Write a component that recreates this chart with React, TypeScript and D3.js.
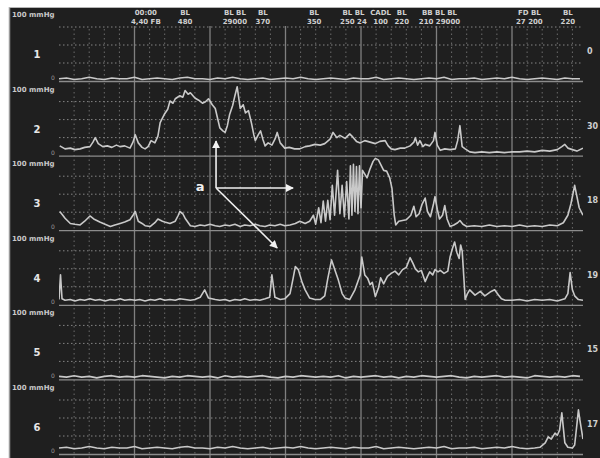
import React from "react";
import * as d3 from "d3";

// ---- data ----
const CHANNELS = ["1", "2", "3", "4", "5", "6"];
const RIGHT_LABELS = ["0", "30", "18", "19", "15", "17"];
const SAMPLE_STEP = 1; // seconds between samples of the flat traces

const CH1_VALUES = [3, 4, 2, 3, 5, 3, 2, 4, 3, 3, 5, 2, 3, 4, 3, 2, 4, 5, 3, 3, 2, 4, 3, 5, 3, 2, 3, 4, 2, 3, 4, 3, 5, 3, 2, 3, 4, 3, 2, 4, 3, 3, 5, 2, 3, 4, 3, 2, 3, 4, 3, 5, 2, 3, 3, 4, 2, 3, 4, 3, 5, 3, 2, 3, 4, 3, 2, 4, 3, 3];
const CH5_VALUES = [4, 3, 5, 3, 4, 2, 4, 5, 3, 4, 3, 5, 4, 3, 2, 4, 3, 5, 4, 3, 4, 2, 5, 3, 4, 3, 4, 5, 3, 2, 4, 3, 5, 4, 3, 4, 3, 5, 2, 4, 3, 4, 5, 3, 4, 2, 4, 3, 5, 4, 3, 4, 5, 3, 2, 4, 3, 4, 5, 3, 4, 3, 2, 5, 4, 3, 4, 3, 5, 4];
const CH6_FLAT = [8, 9, 7, 8, 10, 8, 7, 9, 8, 8, 10, 7, 8, 9, 8, 7, 9, 10, 8, 8, 7, 9, 8, 10, 8, 7, 8, 9, 7, 8, 9, 8, 10, 8, 7, 8, 9, 8, 7, 9, 8, 8, 10, 7, 8, 9, 8, 7, 8, 9, 8, 10, 7, 8, 8, 9, 7, 8, 9, 8, 10, 8, 7, 8];
const CH6_TAIL: [number, number][] = [[63.7, 9], [64.4, 15], [64.8, 23], [65.2, 20], [65.7, 28], [66.0, 25], [66.3, 32], [66.6, 55], [66.8, 35], [67.0, 15], [67.4, 9], [68.0, 8], [68.3, 12], [68.6, 40], [68.8, 59], [69.0, 45], [69.4, 20]];

const CH2: [number, number][] = [[0.1, 13], [0.8, 9], [1.5, 10], [2.1, 8], [2.8, 9], [3.4, 11], [4.1, 12], [4.5, 18], [4.8, 24], [5.2, 16], [5.8, 12], [6.4, 13], [7.0, 11], [7.6, 14], [8.1, 12], [8.7, 13], [9.4, 10], [9.8, 18], [10.1, 28], [10.5, 17], [11.0, 11], [11.4, 9], [11.8, 12], [12.2, 20], [12.7, 17], [13.1, 26], [13.4, 44], [14.0, 56], [14.4, 62], [14.7, 73], [15.1, 70], [15.4, 76], [16.0, 80], [16.4, 78], [16.7, 87], [17.1, 82], [17.4, 84], [18.0, 77], [18.5, 74], [19.0, 70], [19.4, 72], [19.8, 76], [20.3, 68], [20.7, 63], [21.0, 50], [21.3, 37], [21.7, 33], [22.0, 31], [22.3, 40], [22.6, 55], [23.0, 67], [23.3, 80], [23.6, 92], [24.0, 63], [24.4, 68], [24.7, 57], [25.1, 60], [25.5, 43], [25.8, 28], [26.0, 20], [26.4, 28], [26.7, 33], [27.0, 22], [27.3, 13], [27.7, 17], [28.2, 14], [28.6, 22], [28.9, 31], [29.3, 17], [29.9, 10], [30.5, 11], [31.2, 9], [31.9, 9], [32.6, 12], [33.2, 13], [33.9, 15], [34.6, 14], [35.2, 16], [35.9, 22], [36.3, 31], [36.8, 24], [37.2, 27], [37.9, 23], [38.5, 29], [38.9, 25], [39.4, 19], [39.9, 17], [40.5, 20], [41.2, 18], [41.9, 16], [42.5, 19], [43.2, 20], [43.6, 13], [44.0, 9], [44.5, 8], [45.2, 10], [45.8, 10], [46.5, 13], [47.0, 18], [47.2, 24], [47.5, 14], [47.8, 20], [48.2, 12], [48.5, 15], [49.1, 13], [49.6, 20], [49.8, 31], [50.1, 14], [50.5, 7], [51.1, 9], [51.8, 8], [52.5, 9], [52.8, 20], [53.1, 40], [53.4, 12], [53.8, 9], [54.4, 5], [55.1, 4], [56.0, 5], [57.0, 4], [58.0, 5], [59.0, 4], [60.0, 5], [61.0, 5], [62.0, 6], [63.0, 5], [64.0, 7], [65.0, 6], [66.0, 8], [66.6, 12], [67.0, 15], [67.4, 10], [68.0, 8], [68.6, 6], [69.4, 10]];

const CH3: [number, number][] = [[0.1, 25], [0.5, 20], [0.8, 16], [1.5, 9], [2.1, 8], [2.8, 7], [3.4, 12], [4.1, 19], [4.6, 15], [5.4, 11], [6.1, 8], [6.8, 5], [7.4, 7], [8.1, 9], [8.7, 11], [9.4, 14], [9.8, 20], [10.1, 25], [10.5, 12], [11.0, 9], [11.4, 6], [12.1, 5], [12.7, 10], [13.1, 15], [13.7, 12], [14.0, 11], [14.7, 9], [15.4, 12], [15.8, 20], [16.0, 25], [16.4, 22], [16.7, 16], [17.4, 6], [18.0, 5], [18.7, 7], [19.3, 6], [20.0, 8], [20.7, 6], [21.3, 5], [22.0, 7], [22.6, 6], [23.3, 8], [24.0, 5], [24.6, 7], [25.3, 6], [26.0, 8], [26.6, 6], [27.3, 5], [27.9, 7], [28.6, 6], [29.3, 8], [29.9, 6], [30.6, 7], [31.3, 9], [31.9, 12], [32.6, 9], [33.2, 12], [33.7, 20], [34.0, 8], [34.4, 30], [34.7, 10], [35.0, 39], [35.3, 12], [35.6, 40], [35.9, 14], [36.2, 60], [36.5, 20], [36.9, 80], [37.2, 22], [37.5, 60], [37.8, 18], [38.1, 65], [38.4, 15], [38.6, 86], [38.8, 20], [39.0, 88], [39.2, 25], [39.4, 85], [39.6, 22], [39.8, 86], [40.0, 30], [40.2, 80], [40.5, 75], [40.8, 70], [41.2, 82], [41.6, 92], [41.9, 96], [42.3, 94], [42.6, 88], [43.0, 80], [43.4, 79], [43.8, 70], [44.1, 56], [44.4, 20], [44.6, 7], [45.0, 12], [45.5, 13], [46.0, 14], [46.6, 20], [47.0, 32], [47.3, 18], [47.7, 22], [48.1, 35], [48.5, 43], [48.8, 25], [49.2, 18], [49.6, 35], [49.8, 45], [50.1, 28], [50.4, 15], [50.8, 20], [51.1, 33], [51.4, 15], [51.8, 5], [52.3, 7], [52.8, 10], [53.1, 13], [53.5, 8], [54.0, 5], [55.0, 6], [56.0, 5], [57.0, 7], [58.0, 5], [59.0, 6], [60.0, 5], [61.0, 7], [62.0, 5], [63.0, 6], [64.0, 5], [65.0, 7], [66.0, 6], [66.8, 10], [67.4, 20], [67.8, 35], [68.1, 50], [68.3, 60], [68.6, 45], [68.9, 30], [69.4, 20]];

const CH4: [number, number][] = [[0.0, 7], [0.2, 40], [0.4, 8], [0.8, 6], [1.5, 7], [2.1, 5], [2.8, 7], [3.4, 6], [4.1, 8], [4.8, 6], [5.4, 7], [6.1, 5], [6.8, 7], [7.4, 6], [8.1, 8], [8.7, 6], [9.4, 7], [10.1, 6], [10.7, 7], [11.4, 5], [12.1, 7], [12.7, 6], [13.4, 8], [14.0, 6], [14.7, 7], [15.4, 6], [16.0, 8], [16.7, 7], [17.4, 6], [18.0, 7], [18.7, 10], [19.3, 20], [19.8, 9], [20.7, 7], [21.3, 6], [22.0, 7], [22.6, 5], [23.3, 7], [24.0, 6], [24.6, 8], [25.3, 6], [26.0, 7], [26.6, 6], [27.3, 8], [27.9, 10], [28.2, 40], [28.6, 10], [29.3, 7], [29.9, 8], [30.6, 15], [31.0, 35], [31.3, 51], [31.7, 47], [32.2, 30], [32.6, 20], [33.2, 9], [33.9, 7], [34.6, 7], [35.2, 12], [35.6, 35], [36.1, 60], [36.6, 45], [37.0, 33], [37.5, 15], [37.9, 9], [38.5, 7], [39.2, 20], [39.9, 40], [40.1, 64], [40.5, 40], [40.9, 35], [41.2, 27], [41.5, 30], [41.9, 11], [42.3, 22], [42.6, 36], [43.0, 28], [43.5, 38], [44.0, 42], [44.5, 45], [45.0, 40], [45.5, 47], [46.0, 50], [46.5, 63], [46.9, 55], [47.2, 48], [47.6, 44], [48.0, 46], [48.5, 31], [48.8, 38], [49.1, 44], [49.5, 40], [49.8, 47], [50.2, 44], [50.5, 46], [51.0, 42], [51.5, 45], [51.8, 64], [52.1, 75], [52.4, 84], [52.7, 70], [53.0, 62], [53.2, 80], [53.4, 72], [53.6, 40], [53.8, 7], [54.1, 15], [54.4, 20], [55.1, 13], [55.8, 18], [56.4, 12], [57.1, 17], [57.7, 20], [58.2, 13], [58.6, 8], [59.1, 6], [60.0, 6], [61.0, 7], [62.0, 5], [63.0, 7], [64.0, 6], [65.0, 7], [66.0, 5], [67.0, 8], [67.4, 15], [67.7, 43], [68.0, 20], [68.3, 12], [68.8, 7], [69.4, 6]];

const HEADER: { t: number; l1: string; l2: string }[] = [
  { t: 11.5, l1: "00:00", l2: "4,40 FB" },
  { t: 16.7, l1: "BL", l2: "480" },
  { t: 23.3, l1: "BL BL", l2: "29000" },
  { t: 27.0, l1: "BL", l2: "370" },
  { t: 33.8, l1: "BL", l2: "350" },
  { t: 39.0, l1: "BL BL", l2: "250 24" },
  { t: 42.6, l1: "CADL", l2: "100" },
  { t: 45.4, l1: "BL", l2: "220" },
  { t: 50.4, l1: "BB BL BL", l2: "210 29000" },
  { t: 62.3, l1: "FD BL", l2: "27 200" },
  { t: 67.4, l1: "BL", l2: "220" },
];

// ---- layout ----
const W = 600;
const H = 458;
const X0 = 59;
const X1 = 583;
const GRID_TOP = 26;
const FONT = "'DejaVu Sans', Arial, sans-serif";

const x = d3.scaleLinear().domain([0, 70]).range([X0, X0 + 7.55 * 70]);
const baselines = CHANNELS.map((_, i) => 81 + 74.6 * i);
const yScales = baselines.map((b) => d3.scaleLinear().domain([0, 100]).range([b, b - 74.8]));

function uniform(vals: number[]): [number, number][] {
  return vals.map((v, i) => [i * SAMPLE_STEP, v]);
}

const SERIES: [number, number][][] = [
  uniform(CH1_VALUES),
  CH2,
  CH3,
  CH4,
  uniform(CH5_VALUES),
  [...uniform(CH6_FLAT), ...CH6_TAIL],
];

export default function App() {
  const minorTicks = d3.range(0, 70, 2).filter((t) => t % 10 !== 0);
  const majorTicks = d3.range(10, 70, 10);
  const gridColor = "#858585";
  const traceColor = "#c9c9c9";

  const lineFor = (i: number) =>
    d3
      .line<[number, number]>()
      .x((d) => x(d[0]))
      .y((d) => yScales[i](d[1]));

  const aOrigin = { t: 20.8, v: 56.4 };
  const ox = x(aOrigin.t);
  const oy = yScales[2](aOrigin.v);
  const upEnd = [x(20.8), yScales[1](19.5)];
  const rightEnd = [x(31.0), yScales[2](56.4)];
  const diagEnd = [x(28.9), yScales[3](76)];

  return (
    <svg
      width={W}
      height={H}
      style={{ position: "absolute", left: 0, top: 0, display: "block" }}
      fontFamily={FONT}
    >
      <defs>
        <clipPath id="plotclip">
          <rect x={X0} y={0} width={X1 - X0} height={H} />
        </clipPath>
        <marker id="arr" viewBox="0 0 10 10" refX="9" refY="5" markerWidth="5" markerHeight="5" orient="auto">
          <path d="M0,0 L10,5 L0,10 z" fill="#f2f2f2" />
        </marker>
      </defs>
      <rect x={0} y={0} width={W} height={H} fill="#ffffff" />
      <rect x={9} y={7} width={W - 9} height={H - 7} fill="#1f1f1f" />
      <line x1={9.5} y1={7} x2={9.5} y2={H} stroke="#9a9a9a" strokeWidth={1.5} />
      <line x1={9} y1={7.5} x2={W} y2={7.5} stroke="#b5b5b5" strokeWidth={1} />

      {minorTicks.map((t) => (
        <line
          key={"mv" + t}
          x1={x(t)}
          x2={x(t)}
          y1={GRID_TOP + 3}
          y2={H}
          stroke="#6c6c6c"
          strokeWidth={1}
          strokeDasharray="1.5,3"
        />
      ))}
      {majorTicks.map((t) => (
        <line key={"Mv" + t} x1={x(t)} x2={x(t)} y1={GRID_TOP} y2={H} stroke="#808080" strokeWidth={1.3} />
      ))}

      {baselines.map((b, i) => (
        <g key={"h" + i}>
          {[1, 2, 3].map((k) => (
            <line
              key={k}
              x1={X0}
              x2={X1}
              y1={b - 18 * k}
              y2={b - 18 * k}
              stroke={gridColor}
              strokeWidth={1}
              strokeDasharray="1.5,2.5"
            />
          ))}
          <line x1={X0} x2={X1} y1={b + 0.5} y2={b + 0.5} stroke="#8c8c8c" strokeWidth={1.3} />
        </g>
      ))}

      <g clipPath="url(#plotclip)">
        {SERIES.map((s, i) => (
          <path
            key={"s" + i}
            d={lineFor(i)(s) || ""}
            fill="none"
            stroke={traceColor}
            strokeWidth={1.6}
            strokeLinejoin="round"
          />
        ))}
      </g>

      {baselines.map((b, i) => (
        <g key={"l" + i}>
          <text x={12} y={b - 64} fontSize={7} fill="#c8c8c8" fontWeight="bold">
            100 mmHg
          </text>
          <text x={37} y={b - 23} fontSize={10} fill="#e6e6e6" fontWeight="bold" textAnchor="middle">
            {CHANNELS[i]}
          </text>
          <text x={53} y={b - 1} fontSize={6} fill="#9a9a9a" textAnchor="middle">
            0
          </text>
          <text x={587} y={b - 27} fontSize={8} fill="#cfcfcf" fontWeight="bold">
            {RIGHT_LABELS[i]}
          </text>
        </g>
      ))}

      {HEADER.map((h, i) => (
        <g key={"hd" + i} fontSize={7} fill="#cfcfcf" fontWeight="bold" textAnchor="middle">
          <text x={x(h.t)} y={15}>
            {h.l1}
          </text>
          <text x={x(h.t)} y={23.5}>
            {h.l2}
          </text>
        </g>
      ))}

      <text x={x(18.7)} y={yScales[2](52)} fontSize={13} fontWeight="bold" fill="#f0f0f0" textAnchor="middle">
        a
      </text>
      <g stroke="#f0f0f0" strokeWidth={1.6}>
        <line x1={ox} y1={oy} x2={upEnd[0]} y2={upEnd[1]} markerEnd="url(#arr)" />
        <line x1={ox} y1={oy} x2={rightEnd[0]} y2={rightEnd[1]} markerEnd="url(#arr)" />
        <line x1={ox} y1={oy} x2={diagEnd[0]} y2={diagEnd[1]} markerEnd="url(#arr)" />
      </g>
    </svg>
  );
}
